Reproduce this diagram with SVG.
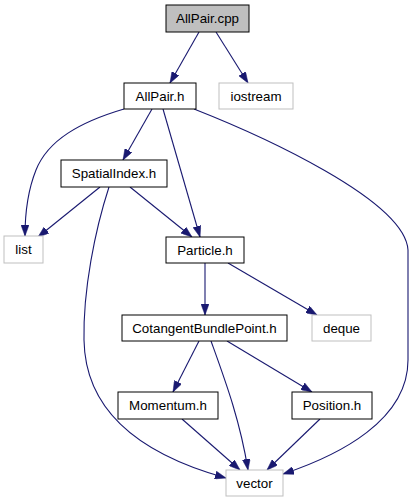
<svg xmlns="http://www.w3.org/2000/svg" width="415" height="504" viewBox="0 0 415 504">
<style>
.n rect{fill:#ffffff;stroke:#000000;stroke-width:1}
.n.g rect{stroke:#bfbfbf}
.n.root rect{fill:#bfbfbf}
.n text{font-family:"Liberation Sans",Arial,sans-serif;font-size:13.33px;fill:#000000;text-anchor:middle}
.e path{fill:none;stroke:#191970;stroke-width:1.1;marker-end:url(#ah)}
</style>
<defs>
<marker id="ah" markerUnits="userSpaceOnUse" viewBox="0 0 11 8" refX="11" refY="4" markerWidth="11" markerHeight="8" orient="auto">
<path d="M0,0 L11,4 L0,8 z" fill="#191970" stroke="#191970" stroke-width="0.5"/>
</marker>
</defs>
<rect x="0" y="0" width="415" height="504" fill="#ffffff"/>
<g id="connectors" class="e">
<path d="M199,32 L170,83"/>
<path d="M216,32 L248,83"/>
<path d="M124,109 C 80,122 48,140 36,170 C 28,190 25,210 25,236"/>
<path d="M152,109 L123,160"/>
<path d="M163,109 L200,237"/>
<path d="M194,109 C 260,135 405,200 408,250 L408,360 C 408,420 340,455 283,474"/>
<path d="M100,187 L38,237"/>
<path d="M130,187 L192,237"/>
<path d="M109,187 C 95,230 83,290 84,340 C 85,400 125,450 226,478"/>
<path d="M205,263 L205,315"/>
<path d="M228,263 L317,315"/>
<path d="M199,341 L173,392"/>
<path d="M211,341 C 225,380 240,420 248,470"/>
<path d="M227,341 L312,392"/>
<path d="M182,419 L240,470"/>
<path d="M320,419 L267,470"/>
</g>
<g id="node-allpair-cpp" class="n root"><rect x="166" y="5" width="83" height="27"/><text x="207.5" y="23.3">AllPair.cpp</text></g>
<g id="node-allpair-h" class="n"><rect x="124" y="83" width="72" height="26"/><text x="160" y="100.8">AllPair.h</text></g>
<g id="node-iostream" class="n g"><rect x="219" y="83" width="74" height="26"/><text x="256" y="100.8">iostream</text></g>
<g id="node-spatialindex" class="n"><rect x="61" y="160" width="106" height="27"/><text x="114" y="178.3">SpatialIndex.h</text></g>
<g id="node-list" class="n g"><rect x="4" y="236" width="39" height="27"/><text x="23.5" y="254.3">list</text></g>
<g id="node-particle" class="n"><rect x="166" y="237" width="78" height="26"/><text x="205" y="254.8">Particle.h</text></g>
<g id="node-deque" class="n g"><rect x="312" y="315" width="59" height="26"/><text x="341.5" y="332.8">deque</text></g>
<g id="node-cbp" class="n"><rect x="122" y="315" width="165" height="26"/><text x="204.5" y="332.8">CotangentBundlePoint.h</text></g>
<g id="node-momentum" class="n"><rect x="118" y="392" width="100" height="27"/><text x="168" y="410.3">Momentum.h</text></g>
<g id="node-position" class="n"><rect x="292" y="392" width="80" height="27"/><text x="332" y="410.3">Position.h</text></g>
<g id="node-vector" class="n g"><rect x="226" y="470" width="57" height="26"/><text x="254.5" y="487.8">vector</text></g>
</svg>
